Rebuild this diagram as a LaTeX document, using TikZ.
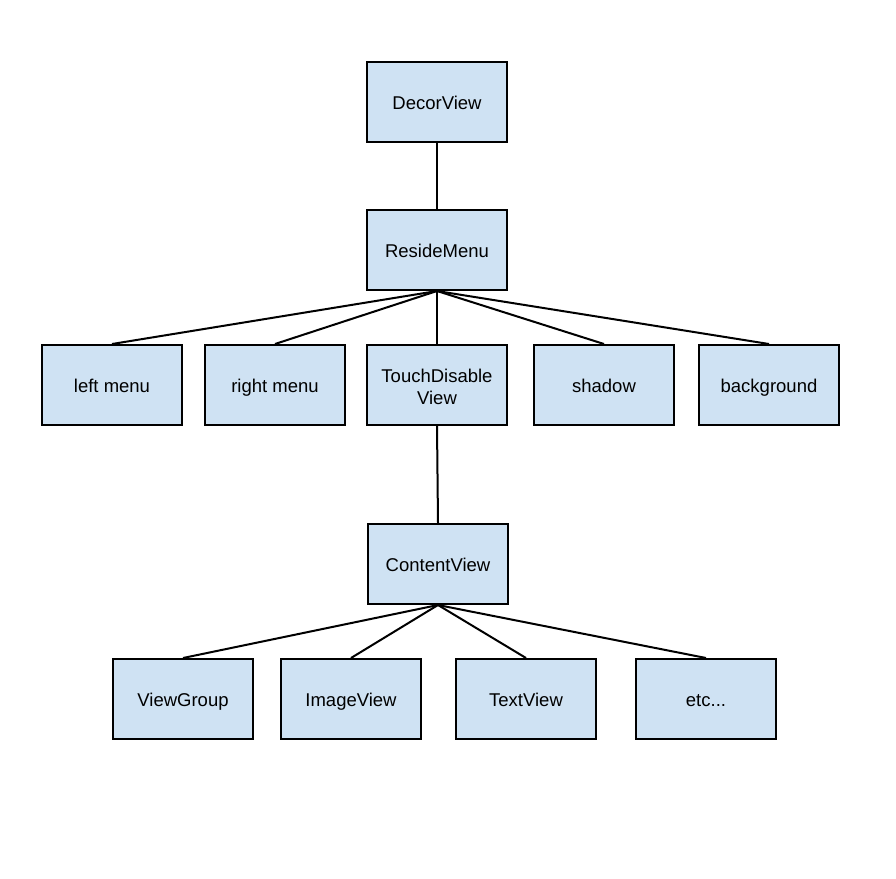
\documentclass[tikz,border=0pt]{standalone}
\usepackage{fontspec}
\setmainfont{Liberation Sans}
\definecolor{boxfill}{HTML}{CFE2F3}
\begin{document}
\begin{tikzpicture}[x=1pt,y=-1pt,
  box/.style={draw=black,fill=boxfill,line width=2pt,minimum width=140pt,minimum height=80pt,inner sep=0pt,align=center,text height=15pt,text depth=0pt,font=\fontsize{18.5}{21.5}\selectfont},
  link/.style={draw=black,line width=2pt}]
\useasboundingbox (0,0) rectangle (896,878);
\node[box] (decor) at (437,102) {DecorView};
\node[box] (reside) at (437,250) {ResideMenu};
\node[box] (left) at (112,385) {left menu};
\node[box] (right) at (275,385) {right menu};
\node[box,text height=38pt,text depth=0pt] (touch) at (437,385) {TouchDisable\\View};
\node[box] (shadow) at (604,385) {shadow};
\node[box] (bg) at (769,385) {background};
\node[box] (content) at (438,564) {ContentView};
\node[box] (vg) at (183,699) {ViewGroup};
\node[box] (iv) at (351,699) {ImageView};
\node[box] (tv) at (526,699) {TextView};
\node[box] (etc) at (706,699) {etc...};
\draw[link] (decor.south) -- (reside.north);
\foreach \n in {left,right,touch,shadow,bg}{\draw[link] (reside.south) -- (\n.north);}
\draw[link] (touch.south) -- (content.north);
\foreach \n in {vg,iv,tv,etc}{\draw[link] (content.south) -- (\n.north);}
\end{tikzpicture}
\end{document}
